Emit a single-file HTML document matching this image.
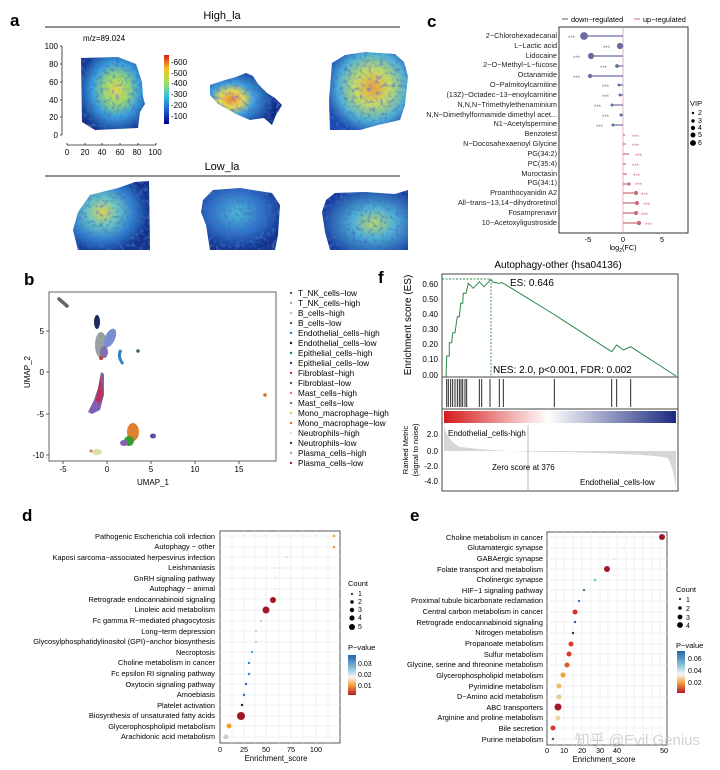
<!DOCTYPE html>
<html><head><meta charset="utf-8"><style>
body{margin:0;background:#fff}
svg{display:block;font-family:"Liberation Sans",Arial,sans-serif}
</style></head><body>
<svg width="720" height="770" viewBox="0 0 720 770" xmlns="http://www.w3.org/2000/svg">
<defs>
<radialGradient id="hA" cx="55%" cy="45%" r="62%"><stop offset="0" stop-color="#e8d848"/><stop offset="0.3" stop-color="#9ad870"/><stop offset="0.6" stop-color="#3aa0e0"/><stop offset="1" stop-color="#12308c"/></radialGradient>
<radialGradient id="hB" cx="30%" cy="50%" r="62%"><stop offset="0" stop-color="#f08828"/><stop offset="0.25" stop-color="#e8d84a"/><stop offset="0.5" stop-color="#3fa0e0"/><stop offset="1" stop-color="#102a88"/></radialGradient>
<radialGradient id="hC" cx="55%" cy="45%" r="62%"><stop offset="0" stop-color="#f0a030"/><stop offset="0.35" stop-color="#c8dc60"/><stop offset="0.7" stop-color="#50b0d8"/><stop offset="1" stop-color="#1a48b0"/></radialGradient>
<radialGradient id="lA" cx="38%" cy="45%" r="62%"><stop offset="0" stop-color="#e0d050"/><stop offset="0.3" stop-color="#70c8c0"/><stop offset="0.65" stop-color="#3080d0"/><stop offset="1" stop-color="#12308c"/></radialGradient>
<radialGradient id="lB" cx="45%" cy="40%" r="62%"><stop offset="0" stop-color="#50b8d8"/><stop offset="0.55" stop-color="#2f70c8"/><stop offset="1" stop-color="#12308c"/></radialGradient>
<radialGradient id="lC" cx="60%" cy="55%" r="62%"><stop offset="0" stop-color="#b8d868"/><stop offset="0.4" stop-color="#50b0d8"/><stop offset="1" stop-color="#163aa0"/></radialGradient>
<linearGradient id="jet" x1="0" y1="1" x2="0" y2="0"><stop offset="0" stop-color="#00007f"/><stop offset="0.2" stop-color="#1f5fd0"/><stop offset="0.4" stop-color="#30c0e0"/><stop offset="0.6" stop-color="#a0e060"/><stop offset="0.8" stop-color="#f8c020"/><stop offset="1" stop-color="#d02020"/></linearGradient>
<linearGradient id="rb" x1="0" y1="0" x2="1" y2="0"><stop offset="0" stop-color="#d41a1a"/><stop offset="0.45" stop-color="#ffffff"/><stop offset="1" stop-color="#1c2a80"/></linearGradient>
<linearGradient id="pv" x1="0" y1="0" x2="0" y2="1"><stop offset="0" stop-color="#2166ac"/><stop offset="0.35" stop-color="#92c5de"/><stop offset="0.55" stop-color="#f7f7f7"/><stop offset="0.75" stop-color="#f4a340"/><stop offset="1" stop-color="#b2182b"/></linearGradient>
<filter id="nz" x="0" y="0" width="100%" height="100%"><feTurbulence type="fractalNoise" baseFrequency="0.25" numOctaves="2" seed="3" result="t"/><feColorMatrix in="t" values="0 0 0 0 0.05  0 0 0 0 0.15  0 0 0 0 0.5  0 0 0 2.2 -1.05" result="d"/><feComposite in="d" in2="SourceGraphic" operator="in" result="dd"/><feMerge><feMergeNode in="SourceGraphic"/><feMergeNode in="dd"/></feMerge></filter>
</defs>

<!-- ===== Panel a ===== -->
<text x="10" y="26" font-size="17" font-weight="bold">a</text>
<text x="222" y="19" font-size="11" text-anchor="middle">High_la</text>
<line x1="45" y1="27" x2="400" y2="27" stroke="#222" stroke-width="1"/>
<text x="83" y="41" font-size="8">m/z=89.024</text>
<g font-size="8" text-anchor="end">
<line x1="62" y1="46" x2="62" y2="135" stroke="#222" stroke-width="0.8"/>
<text x="58" y="49">100</text><text x="58" y="67">80</text><text x="58" y="85">60</text><text x="58" y="103">40</text><text x="58" y="120">20</text><text x="58" y="138">0</text>
<path d="M60 46h2M60 64h2M60 82h2M60 100h2M60 117h2M60 135h2" stroke="#222" stroke-width="0.8"/>
</g>
<g font-size="8" text-anchor="middle">
<line x1="67" y1="145" x2="156" y2="145" stroke="#222" stroke-width="0.8"/>
<path d="M67 143v2M85 143v2M102 143v2M120 143v2M138 143v2M156 143v2" stroke="#222" stroke-width="0.8"/>
<text x="67" y="155">0</text><text x="85" y="155">20</text><text x="102" y="155">40</text><text x="120" y="155">60</text><text x="137" y="155">80</text><text x="155" y="155">100</text>
</g>
<rect x="164" y="55" width="5" height="69" fill="url(#jet)"/>
<g font-size="8"><text x="171" y="65">-600</text><text x="171" y="76">-500</text><text x="171" y="86">-400</text><text x="171" y="97">-300</text><text x="171" y="108">-200</text><text x="171" y="119">-100</text></g>
<g filter="url(#nz)">
<path d="M81 58 L118 57 L136 64 L142 82 L143 97 L145 104 L140 112 L138 128 L95 130 L82 122 Z" fill="url(#hA)"/>
<path d="M210 85 L225 80 L236 77 L246 73 L253 76 L258 84 L267 93 L275 98 L282 105 L276 115 L272 125 L264 118 L250 120 L236 114 L218 104 L210 95 Z" fill="url(#hB)"/>
<path d="M332 63 L345 55 L365 52 L395 54 L404 62 L408 76 L405 105 L400 120 L378 125 L360 130 L330 130 L329 100 Z" fill="url(#hC)"/>
<path d="M78 212 L90 195 L118 188 L135 182 L149 181 L150 250 L78 250 L73 230 Z" fill="url(#lA)"/>
<path d="M203 200 L213 190 L240 188 L272 193 L280 205 L278 235 L275 250 L210 250 L206 225 L201 212 Z" fill="url(#lB)"/>
<path d="M326 200 L335 193 L365 192 L395 194 L408 190 L408 250 L330 250 L325 232 L322 212 Z" fill="url(#lC)"/>
</g>
<text x="222" y="170" font-size="11" text-anchor="middle">Low_la</text>
<line x1="45" y1="176" x2="400" y2="176" stroke="#222" stroke-width="1"/>

<!-- ===== Panel c ===== -->
<text x="427" y="27" font-size="17" font-weight="bold">c</text>
<g font-size="7.3">
<line x1="562" y1="19" x2="568" y2="19" stroke="#5a5a8a"/><text x="571" y="22">down−regulated</text>
<line x1="634" y1="19" x2="640" y2="19" stroke="#c86a7a"/><text x="643" y="22">up−regulated</text>
</g>
<rect x="559" y="27" width="129" height="206" fill="none" stroke="#333" stroke-width="1"/>
<line x1="623" y1="27" x2="623" y2="233" stroke="#d9a0b0" stroke-width="0.8"/>
<g font-size="7.3"><text x="588" y="242" text-anchor="middle">-5</text><text x="623" y="242" text-anchor="middle">0</text><text x="662" y="242" text-anchor="middle">5</text>
<text x="623" y="250" text-anchor="middle">log<tspan font-size="5" dy="2">2</tspan><tspan dy="-2">(FC)</tspan></text></g>
<g font-size="7.3" text-anchor="end" fill="#222">
<text x="557" y="38">2−Chlorohexadecanal</text>
<text x="557" y="48">L−Lactic acid</text>
<text x="557" y="58">Lidocaine</text>
<text x="557" y="67">2−O−Methyl−L−fucose</text>
<text x="557" y="77">Octanamide</text>
<text x="557" y="87">O−Palmitoylcarnitine</text>
<text x="557" y="97">(13Z)−Octadec−13−enoylcarnitine</text>
<text x="557" y="107">N,N,N−Trimethylethenaminium</text>
<text x="557" y="117">N,N−Dimethylformamide dimethyl acet...</text>
<text x="557" y="126">N1−Acetylspermine</text>
<text x="557" y="136">Benzotest</text>
<text x="557" y="146">N−Docosahexaenoyl Glycine</text>
<text x="557" y="156">PG(34:2)</text>
<text x="557" y="166">PC(35:4)</text>
<text x="557" y="176">Muroctasin</text>
<text x="557" y="185">PG(34:1)</text>
<text x="557" y="195">Proanthocyanidin A2</text>
<text x="557" y="205">All−trans−13,14−dihydroretinol</text>
<text x="557" y="215">Fosamprenavir</text>
<text x="557" y="225">10−Acetoxyligustroside</text>
</g>
<g stroke="#6a6aa0" stroke-width="1.2" fill="#6a6aa0">
<line x1="584" y1="36" x2="623" y2="36"/><circle cx="584" cy="36" r="3.3"/>
<line x1="620" y1="46" x2="623" y2="46"/><circle cx="620" cy="46" r="2.5"/>
<line x1="591" y1="56" x2="623" y2="56"/><circle cx="591" cy="56" r="2.5"/>
<line x1="617" y1="66" x2="623" y2="66"/><circle cx="617" cy="66" r="1.3"/>
<line x1="590" y1="76" x2="623" y2="76"/><circle cx="590" cy="76" r="1.5"/>
<line x1="619" y1="85" x2="623" y2="85"/><circle cx="619" cy="85" r="0.9"/>
<line x1="620" y1="95" x2="623" y2="95"/><circle cx="620" cy="95" r="0.9"/>
<line x1="612" y1="105" x2="623" y2="105"/><circle cx="612" cy="105" r="0.9"/>
<line x1="621" y1="115" x2="623" y2="115"/><circle cx="621" cy="115" r="0.9"/>
<line x1="613" y1="125" x2="623" y2="125"/><circle cx="613" cy="125" r="0.9"/>
</g>
<g stroke="#c86a7a" stroke-width="1.2" fill="#c86a7a">
<line x1="623" y1="135" x2="625" y2="135"/>
<line x1="623" y1="144" x2="626" y2="144"/>
<line x1="623" y1="154" x2="629" y2="154"/>
<line x1="623" y1="164" x2="626" y2="164"/>
<line x1="623" y1="174" x2="627" y2="174"/>
<line x1="623" y1="184" x2="629" y2="184"/><circle cx="629" cy="184" r="1"/>
<line x1="623" y1="193" x2="636" y2="193"/><circle cx="636" cy="193" r="1.5"/>
<line x1="623" y1="203" x2="637" y2="203"/><circle cx="637" cy="203" r="1.5"/>
<line x1="623" y1="213" x2="636" y2="213"/><circle cx="636" cy="213" r="1.5"/>
<line x1="623" y1="223" x2="639" y2="223"/><circle cx="639" cy="223" r="1.6"/>
</g>
<g font-size="6" fill="#777">
<text x="568" y="40">***</text><text x="603" y="50">***</text><text x="573" y="60">***</text><text x="600" y="70">***</text><text x="573" y="80">***</text>
<text x="602" y="89">***</text><text x="602" y="99">***</text><text x="594" y="109">***</text><text x="602" y="119">***</text><text x="596" y="129">***</text>
</g>
<g font-size="6" fill="#d07080">
<text x="632" y="139">***</text><text x="632" y="148">***</text><text x="635" y="158">***</text><text x="632" y="168">***</text><text x="633" y="178">***</text>
<text x="635" y="187">***</text><text x="641" y="197">***</text><text x="643" y="207">***</text><text x="641" y="217">***</text><text x="645" y="227">***</text>
</g>
<text x="690" y="106" font-size="7.5">VIP</text>
<g font-size="7"><circle cx="693" cy="113" r="1.2"/><text x="698" y="115">2</text>
<circle cx="693" cy="121" r="1.7"/><text x="698" y="123">3</text>
<circle cx="693" cy="128" r="2.1"/><text x="698" y="130">4</text>
<circle cx="693" cy="135" r="2.5"/><text x="698" y="137">5</text>
<circle cx="693" cy="143" r="2.9"/><text x="698" y="145">6</text></g>

<!-- ===== Panel b ===== -->
<text x="24" y="285" font-size="17" font-weight="bold">b</text>
<rect x="49" y="292" width="227" height="169" fill="none" stroke="#666" stroke-width="1"/>
<g font-size="8" text-anchor="middle">
<path d="M63 461v3M107 461v3M151 461v3M195 461v3M239 461v3M46 331h3M46 372h3M46 414h3M46 455h3" stroke="#333" stroke-width="0.8"/>
<text x="63" y="472">-5</text><text x="107" y="472">0</text><text x="151" y="472">5</text><text x="195" y="472">10</text><text x="239" y="472">15</text>
<text x="153" y="485">UMAP_1</text>
</g>
<g font-size="8" text-anchor="end"><text x="44" y="334">5</text><text x="44" y="375">0</text><text x="44" y="417">-5</text><text x="44" y="458">-10</text></g>
<text x="30" y="372" font-size="8" text-anchor="middle" transform="rotate(-90 30 372)">UMAP_2</text>
<line x1="59" y1="299" x2="67" y2="306" stroke="#666" stroke-width="3.5" stroke-linecap="round"/>
<ellipse cx="97" cy="322" rx="3" ry="7" fill="#1a2a60"/>
<ellipse cx="101" cy="345" rx="6" ry="13" fill="#9aa0a0"/>
<ellipse cx="110" cy="338" rx="5" ry="10" fill="#7a8fd0" transform="rotate(25 110 338)"/>
<ellipse cx="104" cy="352" rx="4" ry="6" fill="#8070b0"/>
<circle cx="101" cy="358" r="2" fill="#c04040"/>
<path d="M121 350 Q117 356 123 364" stroke="#3080c0" stroke-width="3" fill="none"/>
<circle cx="138" cy="351" r="1.8" fill="#3a6a6a"/>
<path d="M101 372 L104 374 L104 395 L100 410 L92 414 L88 412 L94 400 L98 388 Z" fill="#8060b0"/>
<path d="M101 375 L103 395 L99 405 L96 400 Z" fill="#c03050"/>
<ellipse cx="133" cy="432" rx="6" ry="9" fill="#e08030"/>
<ellipse cx="129" cy="441" rx="5" ry="5" fill="#30a030"/>
<ellipse cx="124" cy="443" rx="4" ry="3" fill="#8060b0"/>
<ellipse cx="153" cy="436" rx="3" ry="2.5" fill="#5050a0"/>
<ellipse cx="97" cy="452" rx="5" ry="3" fill="#dde0a0"/>
<circle cx="91" cy="451" r="1.5" fill="#e07070"/>
<circle cx="265" cy="395" r="1.8" fill="#d07030"/>
<g font-size="8.2">
<circle cx="291" cy="293" r="1.2" fill="#3a6a6a"/><text x="298" y="296">T_NK_cells−low</text>
<circle cx="291" cy="303" r="1.2" fill="#a0a0d0"/><text x="298" y="306">T_NK_cells−high</text>
<circle cx="291" cy="313" r="1.2" fill="#bbb"/><text x="298" y="316">B_cells−high</text>
<circle cx="291" cy="323" r="1.2" fill="#4a5a80"/><text x="298" y="326">B_cells−low</text>
<circle cx="291" cy="333" r="1.2" fill="#3a80b0"/><text x="298" y="336">Endothelial_cells−high</text>
<circle cx="291" cy="343" r="1.2" fill="#101830"/><text x="298" y="346">Endothelial_cells−low</text>
<circle cx="291" cy="353" r="1.2" fill="#208060"/><text x="298" y="356">Epithelial_cells−high</text>
<circle cx="291" cy="363" r="1.2" fill="#404080"/><text x="298" y="366">Epithelial_cells−low</text>
<circle cx="291" cy="373" r="1.2" fill="#c03040"/><text x="298" y="376">Fibroblast−high</text>
<circle cx="291" cy="383" r="1.2" fill="#406060"/><text x="298" y="386">Fibroblast−low</text>
<circle cx="291" cy="393" r="1.2" fill="#e07070"/><text x="298" y="396">Mast_cells−high</text>
<circle cx="291" cy="403" r="1.2" fill="#5a7a7a"/><text x="298" y="406">Mast_cells−low</text>
<circle cx="291" cy="413" r="1.2" fill="#d0d060"/><text x="298" y="416">Mono_macrophage−high</text>
<circle cx="291" cy="423" r="1.2" fill="#e07020"/><text x="298" y="426">Mono_macrophage−low</text>
<circle cx="291" cy="433" r="1.2" fill="#ddd"/><text x="298" y="436">Neutrophils−high</text>
<circle cx="291" cy="443" r="1.2" fill="#304050"/><text x="298" y="446">Neutrophils−low</text>
<circle cx="291" cy="453" r="1.2" fill="#b0a0c0"/><text x="298" y="456">Plasma_cells−high</text>
<circle cx="291" cy="463" r="1.2" fill="#a02040"/><text x="298" y="466">Plasma_cells−low</text>
</g>

<!-- ===== Panel f ===== -->
<text x="378" y="283" font-size="17" font-weight="bold">f</text>
<text x="558" y="268" font-size="10" text-anchor="middle">Autophagy-other (hsa04136)</text>
<rect x="442" y="274" width="236" height="217" fill="none" stroke="#444" stroke-width="1"/>
<line x1="442" y1="377" x2="678" y2="377" stroke="#444"/>
<line x1="442" y1="409" x2="678" y2="409" stroke="#444"/>
<rect x="444" y="411" width="232" height="12" fill="url(#rb)"/>
<g font-size="8" text-anchor="end">
<text x="438" y="287">0.60</text><text x="438" y="302">0.50</text><text x="438" y="317">0.40</text><text x="438" y="332">0.30</text><text x="438" y="347">0.20</text><text x="438" y="362">0.10</text><text x="438" y="378">0.00</text>
<text x="438" y="437">2.0</text><text x="438" y="454">0.0</text><text x="438" y="469">-2.0</text><text x="438" y="484">-4.0</text>
</g>
<text x="411" y="325" font-size="10" text-anchor="middle" transform="rotate(-90 411 325)">Enrichment score (ES)</text>
<text x="408" y="450" font-size="7.5" text-anchor="middle" transform="rotate(-90 408 450)">Ranked Metric</text>
<text x="418" y="450" font-size="7.5" text-anchor="middle" transform="rotate(-90 418 450)">(signal to noise)</text>
<path d="M442 279 H491 V377" stroke="#2a8a4a" stroke-width="0.9" stroke-dasharray="2,1.5" fill="none"/>
<polyline fill="none" stroke="#2a8a4a" stroke-width="1" points="446,377 446.7,356 449.3,356 449.3,342.7 451.7,342.7 452.7,332.7 455,332.7 457.3,316.7 459.3,316.7 460.7,303.3 462.7,303.3 463.3,293.3 466,293.3 468.3,283.3 473.3,288.3 479.3,281.7 484,286.7 488.3,282.3 490.7,279.3 493.3,282.3 499.3,283.3 501.7,282.7 505,284.3 555,315 560,318.3 611.7,351.7 616.7,345 623.3,350 630.7,346.7 676,376"/>
<text x="510" y="286" font-size="10">ES: 0.646</text>
<text x="493" y="373" font-size="10">NES: 2.0, p&lt;0.001, FDR: 0.002</text>
<g stroke="#111" stroke-width="0.9">
<path d="M446.7 379v28M448.3 379v28M450.7 379v28M452.7 379v28M455 379v28M457.3 379v28M459.3 379v28M461 379v28M462.7 379v28M465 379v28M466.7 379v28M479.3 379v28M481.7 379v28M490 379v28M499.3 379v28M503.3 379v28M554.3 379v28M611.7 379v28M616.7 379v28M630.7 379v28"/>
</g>
<path d="M444 424 Q446 440 460 447 Q500 452 560 452 Q650 454 668 458 Q674 470 676 490 L676 451 L444 451 Z" fill="#d6d6d6"/>
<line x1="528" y1="425" x2="528" y2="491" stroke="#bbb" stroke-width="1"/>
<text x="448" y="436" font-size="8">Endothelial_cells-high</text>
<text x="492" y="470" font-size="8">Zero score at 376</text>
<text x="580" y="485" font-size="8">Endothelial_cells-low</text>

<!-- ===== Panel d ===== -->
<text x="22" y="521" font-size="17" font-weight="bold">d</text>
<rect x="220" y="531" width="120" height="212" fill="#fff" stroke="#555" stroke-width="1"/>
<g stroke="#eee" stroke-width="0.8">
<path d="M232 531v212M244 531v212M255 531v212M266 531v212M279 531v212M291 531v212M303 531v212M316 531v212M328 531v212"/>
<path d="M220 536h120M220 547h120M220 557h120M220 568h120M220 578h120M220 589h120M220 599h120M220 610h120M220 621h120M220 631h120M220 642h120M220 652h120M220 663h120M220 674h120M220 684h120M220 695h120M220 705h120M220 716h120M220 726h120M220 737h120"/>
</g>
<g font-size="7.4" text-anchor="end">
<text x="215" y="539">Pathogenic Escherichia coli infection</text>
<text x="215" y="549">Autophagy − other</text>
<text x="215" y="560">Kaposi sarcoma−associated herpesvirus infection</text>
<text x="215" y="570">Leishmaniasis</text>
<text x="215" y="581">GnRH signaling pathway</text>
<text x="215" y="591">Autophagy − animal</text>
<text x="215" y="602">Retrograde endocannabinoid signaling</text>
<text x="215" y="612">Linoleic acid metabolism</text>
<text x="215" y="623">Fc gamma R−mediated phagocytosis</text>
<text x="215" y="634">Long−term depression</text>
<text x="215" y="644">Glycosylphosphatidylinositol (GPI)−anchor biosynthesis</text>
<text x="215" y="655">Necroptosis</text>
<text x="215" y="665">Choline metabolism in cancer</text>
<text x="215" y="676">Fc epsilon RI signaling pathway</text>
<text x="215" y="687">Oxytocin signaling pathway</text>
<text x="215" y="697">Amoebiasis</text>
<text x="215" y="708">Platelet activation</text>
<text x="215" y="718">Biosynthesis of unsaturated fatty acids</text>
<text x="215" y="729">Glycerophospholipid metabolism</text>
<text x="215" y="739">Arachidonic acid metabolism</text>
</g>
<circle cx="334" cy="536" r="1.3" fill="#f0a040"/>
<circle cx="334" cy="547" r="1.3" fill="#f0a040"/>
<circle cx="287" cy="557" r="1" fill="#e8d8c0"/>
<circle cx="275" cy="568" r="1" fill="#ddd"/>
<circle cx="275" cy="578" r="1" fill="#ddd"/>
<circle cx="275" cy="589" r="1" fill="#ddd"/>
<circle cx="273" cy="600" r="3" fill="#a01828"/>
<circle cx="266" cy="610" r="3.5" fill="#a01828"/>
<circle cx="261" cy="621" r="1" fill="#bbb"/>
<circle cx="256" cy="631" r="1" fill="#bbb"/>
<circle cx="256" cy="642" r="1" fill="#bbb"/>
<circle cx="252" cy="652" r="1.2" fill="#5aa0d0"/>
<circle cx="249" cy="663" r="1.2" fill="#3a80c0"/>
<circle cx="249" cy="674" r="1.2" fill="#3a80c0"/>
<circle cx="246" cy="684" r="1.2" fill="#2a68b0"/>
<circle cx="244" cy="695" r="1.2" fill="#2a68b0"/>
<circle cx="242" cy="705" r="1.2" fill="#222"/>
<circle cx="241" cy="716" r="4" fill="#a01828"/>
<circle cx="229" cy="726" r="2.5" fill="#f0a020"/>
<circle cx="226" cy="737" r="2.5" fill="#ccc"/>
<g font-size="7.3" text-anchor="middle"><text x="220" y="752">0</text><text x="244" y="752">25</text><text x="266" y="752">50</text><text x="291" y="752">75</text><text x="316" y="752">100</text></g>
<text x="276" y="761" font-size="7.8" text-anchor="middle">Enrichment_score</text>
<text x="348" y="586" font-size="7.5">Count</text>
<circle cx="352" cy="594" r="1" /><circle cx="352" cy="602" r="1.7"/><circle cx="352" cy="610" r="2.2"/><circle cx="352" cy="618" r="2.6"/><circle cx="352" cy="627" r="3"/>
<g font-size="7"><text x="358" y="596">1</text><text x="358" y="604">2</text><text x="358" y="612">3</text><text x="358" y="620">4</text><text x="358" y="629">5</text></g>
<text x="348" y="650" font-size="7.5">P−value</text>
<rect x="348" y="655" width="8" height="40" fill="url(#pv)"/>
<g font-size="7"><text x="358" y="666">0.03</text><text x="358" y="677">0.02</text><text x="358" y="688">0.01</text></g>

<!-- ===== Panel e ===== -->
<text x="410" y="521" font-size="17" font-weight="bold">e</text>
<rect x="547" y="532" width="120" height="213" fill="#fff" stroke="#555" stroke-width="1"/>
<g stroke="#eee" stroke-width="0.8">
<path d="M556 532v213M564 532v213M573 532v213M582 532v213M591 532v213M600 532v213M608 532v213M617 532v213M626 532v213M634 532v213M643 532v213M652 532v213M660 532v213"/>
<path d="M547 537h120M547 548h120M547 559h120M547 569h120M547 580h120M547 590h120M547 601h120M547 612h120M547 622h120M547 633h120M547 644h120M547 654h120M547 665h120M547 675h120M547 686h120M547 697h120M547 707h120M547 718h120M547 728h120M547 739h120"/>
</g>
<g font-size="7.4" text-anchor="end">
<text x="543" y="540">Choline metabolism in cancer</text>
<text x="543" y="550">Glutamatergic synapse</text>
<text x="543" y="561">GABAergic synapse</text>
<text x="543" y="572">Folate transport and metabolism</text>
<text x="543" y="582">Cholinergic synapse</text>
<text x="543" y="593">HIF−1 signaling pathway</text>
<text x="543" y="603">Proximal tubule bicarbonate reclamation</text>
<text x="543" y="614">Central carbon metabolism in cancer</text>
<text x="543" y="625">Retrograde endocannabinoid signaling</text>
<text x="543" y="635">Nitrogen metabolism</text>
<text x="543" y="646">Propanoate metabolism</text>
<text x="543" y="657">Sulfur metabolism</text>
<text x="543" y="667">Glycine, serine and threonine metabolism</text>
<text x="543" y="678">Glycerophospholipid metabolism</text>
<text x="543" y="689">Pyrimidine metabolism</text>
<text x="543" y="699">D−Amino acid metabolism</text>
<text x="543" y="710">ABC transporters</text>
<text x="543" y="720">Arginine and proline metabolism</text>
<text x="543" y="731">Bile secretion</text>
<text x="543" y="742">Purine metabolism</text>
</g>
<circle cx="662" cy="537" r="3" fill="#a01828"/>
<circle cx="624" cy="548" r="1" fill="#ddd"/>
<circle cx="614" cy="559" r="1" fill="#ddd"/>
<circle cx="607" cy="569" r="3" fill="#a01828"/>
<circle cx="595" cy="580" r="1.3" fill="#70c8c8"/>
<circle cx="584" cy="590" r="1.2" fill="#3a8080"/>
<circle cx="579" cy="601" r="1.2" fill="#3a70b0"/>
<circle cx="575" cy="612" r="2.5" fill="#d03030"/>
<circle cx="575" cy="622" r="1.2" fill="#2a60a0"/>
<circle cx="573" cy="633" r="1.2" fill="#203050"/>
<circle cx="571" cy="644" r="2.5" fill="#d83a28"/>
<circle cx="569" cy="654" r="2.5" fill="#d83a28"/>
<circle cx="567" cy="665" r="2.5" fill="#e05a30"/>
<circle cx="563" cy="675" r="2.5" fill="#f0a030"/>
<circle cx="559" cy="686" r="2.5" fill="#f0c060"/>
<circle cx="559" cy="697" r="2.5" fill="#e8c890"/>
<circle cx="558" cy="707" r="3.5" fill="#a01828"/>
<circle cx="558" cy="718" r="2.5" fill="#e8d8a0"/>
<circle cx="553" cy="728" r="2.5" fill="#d83a28"/>
<circle cx="553" cy="739" r="1.2" fill="#555"/>
<g font-size="7.3" text-anchor="middle"><text x="547" y="753">0</text><text x="564" y="753">10</text><text x="582" y="753">20</text><text x="600" y="753">30</text><text x="617" y="753">40</text><text x="664" y="753">50</text></g>
<text x="604" y="762" font-size="7.8" text-anchor="middle">Enrichment_score</text>
<text x="676" y="592" font-size="7.5">Count</text>
<g font-size="7"><circle cx="680" cy="599" r="1"/><text x="686" y="602">1</text>
<circle cx="680" cy="608" r="1.8"/><text x="686" y="611">2</text>
<circle cx="680" cy="617" r="2.4"/><text x="686" y="620">3</text>
<circle cx="680" cy="625" r="2.9"/><text x="686" y="628">4</text></g>
<text x="676" y="648" font-size="7.5">P−value</text>
<rect x="677" y="651" width="8" height="42" fill="url(#pv)"/>
<g font-size="7"><text x="688" y="661">0.06</text><text x="688" y="673">0.04</text><text x="688" y="685">0.02</text></g>
<text x="700" y="745" font-size="15" fill="#c8c8c8" text-anchor="end" opacity="0.8">知乎 @Evil Genius</text>
</svg>
</body></html>
